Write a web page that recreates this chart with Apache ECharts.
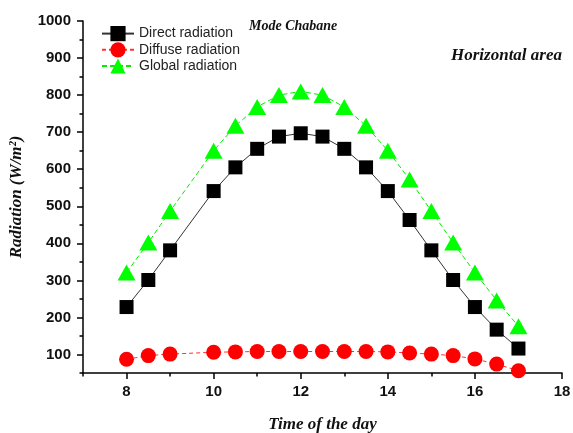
<!DOCTYPE html>
<html>
<head>
<meta charset="utf-8">
<script src="https://cdn.jsdelivr.net/npm/echarts@6/dist/echarts.min.js"></script>
<style>
  html, body { margin: 0; padding: 0; background: #fff; }
  #chart { width: 573px; height: 433px; }
</style>
</head>
<body>
<div id="chart"></div>
<script>
// hours of the day (no reading at 9.5)
const hours = [8, 8.5, 9, 10, 10.5, 11, 11.5, 12, 12.5, 13, 13.5, 14, 14.5, 15, 15.5, 16, 16.5, 17]
const direct = [228, 301, 381, 541, 605, 655, 688, 697, 688, 655, 605, 541, 463, 381, 301, 228, 167, 116]
const diffuse = [87, 97, 101, 106, 107, 108, 108, 108, 108, 108, 108, 107, 104, 101, 97, 88, 74, 56]
const globalRad = [321, 402, 487, 650, 717, 768, 800, 810, 800, 768, 717, 650, 572, 487, 402, 321, 246, 176]

const xTicks = [8, 10, 12, 14, 16, 18]
const xMinorTicks = [7, 9, 11, 13, 15, 17]
const yTicks = [100, 200, 300, 400, 500, 600, 700, 800, 900, 1000]
const yMinorTicks = [50, 150, 250, 350, 450, 550, 650, 750, 850, 950]

const pairs = (vals) => hours.map((h, i) => [h, vals[i]])

const chart = echarts.init(document.getElementById('chart'))

const serifBold = { fontFamily: 'Liberation Serif', fontStyle: 'italic', fontWeight: 'bold', color: '#111' }
const axisCommon = {
  type: 'value',
  axisLine: { show: true, lineStyle: { color: '#000', width: 1.5 } },
  splitLine: { show: false },
}
const tickLabel = { fontFamily: 'Liberation Sans', fontWeight: 'bold', fontSize: 15, color: '#111', formatter: (v) => String(v) }

chart.setOption({
  animation: false,
  backgroundColor: '#fff',
  title: [
    { text: 'Mode Chabane', left: 244, top: 14, textStyle: { ...serifBold, fontSize: 14 } },
    { text: 'Horizontal area', left: 446, top: 42, textStyle: { ...serifBold, fontSize: 17 } },
  ],
  legend: {
    left: 96,
    top: 21,
    orient: 'vertical',
    itemWidth: 32,
    itemHeight: 19,
    itemGap: 1,
    textStyle: { fontFamily: 'Liberation Sans', fontSize: 14, color: '#222' },
    data: ['Direct radiation', 'Diffuse radiation', 'Global radiation'],
  },
  grid: { left: 83, right: 11, top: 21, bottom: 60, outerBoundsMode: 'none' },
  xAxis: [
    {
      ...axisCommon,
      min: 7, max: 18,
      name: 'Time of the day',
      nameLocation: 'middle',
      nameGap: 43,
      nameTextStyle: { ...serifBold, fontSize: 17 },
      axisTick: { show: true, length: 6, lineStyle: { color: '#000', width: 1.5 }, customValues: xTicks },
      axisLabel: { ...tickLabel, customValues: xTicks, margin: 11 },
    },
    {
      ...axisCommon,
      position: 'bottom',
      min: 7, max: 18,
      axisLine: { show: false },
      axisTick: { show: true, length: 3.5, lineStyle: { color: '#000', width: 1.5 }, customValues: xMinorTicks },
      axisLabel: { show: false },
    },
  ],
  yAxis: [
    {
      ...axisCommon,
      min: 50, max: 1000,
      name: 'Radiation (W/m²)',
      nameLocation: 'middle',
      nameGap: 58,
      nameTextStyle: { ...serifBold, fontSize: 17 },
      axisTick: { show: true, length: 6, lineStyle: { color: '#000', width: 1.5 }, customValues: yTicks },
      axisLabel: { ...tickLabel, customValues: yTicks, margin: 12 },
    },
    {
      ...axisCommon,
      position: 'left',
      min: 50, max: 1000,
      axisLine: { show: false },
      axisTick: { show: true, length: 3.5, lineStyle: { color: '#000', width: 1.5 }, customValues: yMinorTicks },
      axisLabel: { show: false },
    },
  ],
  series: [
    {
      name: 'Direct radiation',
      type: 'line',
      data: pairs(direct),
      symbol: 'rect',
      symbolSize: 14,
      itemStyle: { color: '#000' },
      lineStyle: { color: '#333', width: 1 },
    },
    {
      name: 'Diffuse radiation',
      type: 'line',
      data: pairs(diffuse),
      symbol: 'circle',
      symbolSize: 15,
      itemStyle: { color: '#ff0000' },
      lineStyle: { color: '#ff3030', width: 1, type: [4, 3] },
    },
    {
      name: 'Global radiation',
      type: 'line',
      data: pairs(globalRad),
      symbol: 'triangle',
      symbolSize: [18, 16],
      itemStyle: { color: '#00ff00' },
      lineStyle: { color: '#00ee00', width: 1, type: [5, 3] },
    },
  ],
})
</script>
</body>
</html>
